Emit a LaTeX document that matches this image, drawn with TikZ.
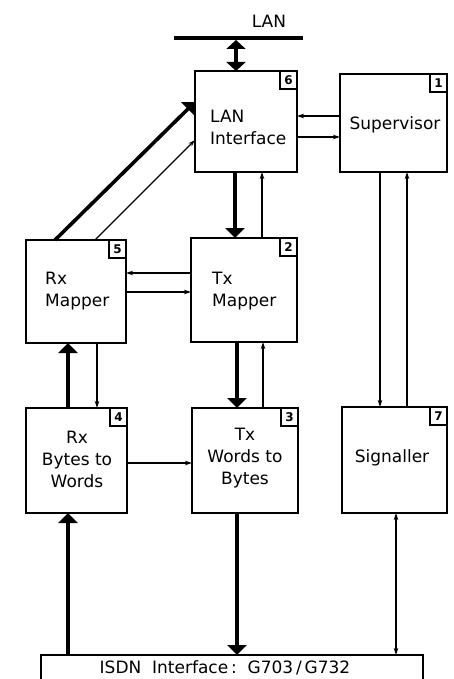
\documentclass[tikz,border=0pt]{standalone}
\usepackage{fontspec}
\setmainfont{DejaVu Sans}
\usetikzlibrary{arrows.meta}
\begin{document}
\begin{tikzpicture}[x=1pt,y=-1pt,
  box/.style={draw, line width=1.6pt, inner sep=0pt, outer sep=0pt},
  tag/.style={draw, line width=1.2pt, minimum width=17pt, minimum height=18pt,
    inner sep=0pt, outer sep=0pt, anchor=north east, font=\fontsize{12}{14}\selectfont\bfseries},
  txt/.style={font=\fontsize{17}{22}\selectfont, inner sep=0pt},
  thickarr/.style={line width=3.6pt, -{Triangle[length=10pt,width=19pt]}},
  thinarr/.style={line width=1.1pt, -{Stealth[length=7pt,width=4.5pt]}},
  lanarr/.style={line width=3.6pt, {Triangle[length=9pt,width=19pt]}-{Triangle[length=9pt,width=19pt]}}
]
\useasboundingbox (0,0) rectangle (454,679);

% LAN bus
\coordinate (busL) at (174,38);
\coordinate (busR) at (303,38);
\draw[line width=4pt] (busL) -- (busR);
\node[txt] (lantxt) at (269,21) {LAN};
\coordinate (busT) at (236,40);

% Blocks
\node[box, minimum width=102pt, minimum height=101pt] (lan) at (246,121.5) {};
\node[box, minimum width=107pt, minimum height=98pt]  (sup) at (393.5,123) {};
\node[box, minimum width=100pt, minimum height=103pt] (rxm) at (76,291.5) {};
\node[box, minimum width=106pt, minimum height=104pt] (txm) at (244,290) {};
\node[box, minimum width=101pt, minimum height=105pt] (rxb) at (76.5,460.5) {};
\node[box, minimum width=106pt, minimum height=105pt] (txw) at (245,460.5) {};
\node[box, minimum width=105pt, minimum height=106pt] (sig) at (394.5,460) {};
\node[box, minimum width=382pt, minimum height=40pt]  (isdn) at (232,675) {};

% Block numbers
\node[tag] (t6) at (lan.north east) {6};
\node[tag] (t1) at (sup.north east) {1};
\node[tag] (t5) at (rxm.north east) {5};
\node[tag] (t2) at (txm.north east) {2};
\node[tag] (t4) at (rxb.north east) {4};
\node[tag] (t3) at (txw.north east) {3};
\node[tag] (t7) at (sig.north east) {7};

% Block texts
\node[txt, align=left, anchor=west] (lanl) at (210,127) {LAN\\Interface};
\node[txt] (supl) at (395,125) {Supervisor};
\node[txt, align=left, anchor=west] (rxml) at (45,291) {Rx\\Mapper};
\node[txt, align=left, anchor=west] (txml) at (212,291) {Tx\\Mapper};
\node[txt, align=center] (rxbl) at (77,459) {Rx\\Bytes to\\Words};
\node[txt, align=center] (txwl) at (245,458) {Tx\\Words to\\Bytes};
\node[txt] (sigl) at (392,458) {Signaller};
\node[txt] (isdnl) at (225,668) {ISDN\ \ Interface\,:\ \ G703\,/\,G732};

% LAN <-> LAN Interface
\draw[lanarr] (busT) -- (236,0 |- lan.north);

% LAN Interface <-> Supervisor
\draw[thinarr] (sup.west |- 0,116) -- (lan.east |- 0,116);
\draw[thinarr] (lan.east |- 0,137) -- (sup.west |- 0,137);

% Rx Mapper -> LAN Interface
\draw[thickarr] (55,0 |- rxm.north) -- (lan.west |- 0,102);
\draw[thinarr] (95,0 |- rxm.north) -- (lan.west |- 0,140);

% LAN Interface <-> Tx Mapper
\draw[thickarr] (235,0 |- lan.south) -- (235,0 |- txm.north);
\draw[thinarr] (262,0 |- txm.north) -- (262,0 |- lan.south);

% Supervisor <-> Signaller
\draw[thinarr] (380,0 |- sup.south) -- (380,0 |- sig.north);
\draw[thinarr] (407,0 |- sig.north) -- (407,0 |- sup.south);

% Rx Mapper <-> Tx Mapper
\draw[thinarr] (txm.west |- 0,273) -- (rxm.east |- 0,273);
\draw[thinarr] (rxm.east |- 0,292) -- (txm.west |- 0,292);

% Rx Mapper <-> Rx Bytes to Words
\draw[thickarr] (68,0 |- rxb.north) -- (68,0 |- rxm.south);
\draw[thinarr] (97,0 |- rxm.south) -- (97,0 |- rxb.north);

% Tx Mapper <-> Tx Words to Bytes
\draw[thickarr] (237,0 |- txm.south) -- (237,0 |- txw.north);
\draw[thinarr] (263,0 |- txw.north) -- (263,0 |- txm.south);

% Rx Bytes to Words -> Tx Words to Bytes
\draw[thinarr] (rxb.east |- 0,463) -- (txw.west |- 0,463);

% ISDN interface links
\draw[thickarr] (68,0 |- isdn.north) -- (68,0 |- rxb.south);
\draw[thickarr] (237,0 |- txw.south) -- (237,0 |- isdn.north);
\draw[thinarr, {Stealth[length=7pt,width=4.5pt]}-{Stealth[length=7pt,width=4.5pt]}]
  (396,0 |- sig.south) -- (396,0 |- isdn.north);
\end{tikzpicture}
\end{document}
